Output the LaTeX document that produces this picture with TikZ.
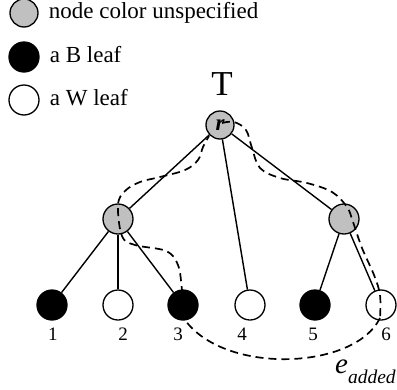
\documentclass[tikz,border=0pt]{standalone}
\usepackage{fontspec}
\setmainfont{Liberation Serif}
\usetikzlibrary{positioning, calc}
\definecolor{TreeGray}{RGB}{192,192,192}
\tikzset{
    % Tree nodes (B leaf, W leaf, unspecified)
    leafB/.style={
        circle,
        draw=black,
        fill=black,
        minimum size=30pt,
        inner sep=0pt,
        line width=1.3pt
    },
    leafW/.style={leafB, fill=white},
    innerG/.style={leafB, fill=TreeGray},
    % Texts
    keytext/.style={
        inner sep=0pt,
        font=\fontsize{23}{26}\selectfont,
        text height=16pt,
        text depth=5pt
    },
    numlabel/.style={
        inner sep=0pt,
        font=\fontsize{19}{22}\selectfont,
        text height=13pt,
        text depth=0pt
    },
    % Lines
    treeedge/.style={line width=1.4pt},
    tour/.style={line width=1.7pt, dash pattern=on 8pt off 5pt}
}

\begin{document}
\begin{tikzpicture}[x=1pt, y=-1pt]
    \useasboundingbox (0,0) rectangle (397,389);

    % ==========================================
    % LEGEND
    % ==========================================
    \node[innerG, minimum size=28pt] (keyU) at (24,13) {};
    \node[keytext, right=10pt of keyU] (keyUtxt) {node color unspecified};
    \node[leafB] (keyB) at (24,57) {};
    \node[keytext, right=10pt of keyB] (keyBtxt) {a B leaf};
    \node[leafW] (keyW) at (24,100) {};
    \node[keytext, right=10pt of keyW] (keyWtxt) {a W leaf};

    % ==========================================
    % TREE T
    % ==========================================
    \node[innerG, minimum size=28pt, font=\fontsize{23}{23}\selectfont\bfseries\itshape] (rt) at (220,125) {r};
    \node[inner sep=0pt, font=\fontsize{35}{38}\selectfont, above=15pt of rt, xshift=2pt] (tname) {T};
    \node[innerG] (vl) at (118,219) {};
    \node[innerG] (vr) at (344,219) {};

    % Leaves & numbers
    \foreach \i/\x/\s/\dx in {1/52/leafB/1, 2/118/leafW/5, 3/183/leafB/-5,
                              4/250/leafW/-8, 5/315/leafB/-2, 6/381/leafW/5} {
        \node[\s] (l\i) at (\x,305) {};
        \node[numlabel, below=7pt of l\i, xshift=\dx pt] (n\i) {\i};
    }

    % Edges
    \foreach \a/\b in {rt/vl, rt/l4, rt/vr, vl/l1, vl/l2, vl/l3, vr/l5, vr/l6}
        \draw[treeedge] (\a) -- (\b);

    % Tour: root -> right side -> leaf 6
    \draw[tour] plot[smooth, tension=0.6] coordinates {
        ($(rt)+(2,-2)$) ($(rt)+(14,-3)$) ($(rt)+(26,5)$) ($(rt)+(32,23)$)
        ($(rt)+(40,43)$) ($(rt)+(60,53)$) ($(vr)+(-37,-36)$) ($(vr)+(-12,-27)$)
        ($(vr)+(3,-12)$) ($(vr)+(9,3)$) ($(vr)+(18,29)$) ($(l6)+(-7,-30)$)
        ($(l6)+(-1,-10)$) ($(l6)+(-1,13)$)};

    % Added edge: leaf 6 -> leaf 3
    \draw[tour] ($(l6)+(-1,13)$) .. controls ($(l6)+(-26,65)$) and ($(l3)+(42,70)$) .. ($(l3)+(2,15)$);
    \node[anchor=base west, inner sep=0pt, font=\fontsize{29}{31}\selectfont\itshape] (eadd)
        at ($(l6)+(-46,68)$) {e\raisebox{-10pt}{\fontsize{19.5}{21}\selectfont added}};

    % Tour: leaf 3 -> left side -> root
    \draw[tour] plot[smooth, tension=0.6] coordinates {
        ($(l3)+(2,15)$) ($(l3)+(-1,-15)$) ($(l3)+(-5,-40)$) ($(l3)+(-17,-54)$)
        ($(vl)+(17,26)$) ($(vl)+(4,17)$) ($(vl)+(0,-14)$) ($(vl)+(7,-28)$)
        ($(vl)+(22,-37)$) ($(rt)+(-60,52)$) ($(rt)+(-35,45)$) ($(rt)+(-22,35)$)
        ($(rt)+(-17,22)$) ($(rt)+(-11,11)$)};

\end{tikzpicture}
\end{document}
